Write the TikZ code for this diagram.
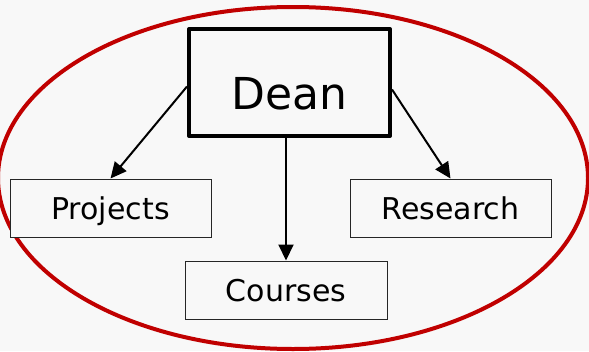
\documentclass[tikz,border=0pt]{standalone}
\usepackage{fontspec}
\setmainfont{DejaVu Sans}
\usetikzlibrary{arrows.meta}
\definecolor{bgc}{RGB}{248,248,248}
\definecolor{ringred}{RGB}{192,0,0}
\tikzset{
  unitbox/.style={draw=black!85, line width=1pt, fill=bgc, inner sep=0pt,
    minimum width=201pt, text height=40pt, text depth=18pt,
    font=\fontsize{30}{36}\selectfont},
  deanbox/.style={draw=black, line width=4pt, line join=round, fill=bgc, inner sep=0pt,
    minimum width=201pt, text height=80pt, text depth=27pt,
    font=\fontsize{44}{50}\selectfont},
  link/.style={line width=2pt, -{Triangle[length=16pt,width=15pt]}}
}
\begin{document}
\begin{tikzpicture}[x=1pt,y=-1pt]
\fill[bgc] (0,0) rectangle (589,351);
\useasboundingbox (0,0) rectangle (589,351);
\draw[ringred, line width=4pt] (293,178) ellipse [x radius=295, y radius=171];
\node[deanbox] (dean) at (289.5,82.5) {Dean};
\node[unitbox] (projects) at (110.5,208) {Projects};
\node[unitbox] (research) at (450.5,208) {Research};
\node[unitbox, minimum width=202pt] (courses) at (286,290) {Courses};
\draw[link] ([yshift=-4pt]dean.west) -- (projects.north);
\draw[link] ([yshift=-7pt]dean.east) -- (research.north);
\draw[link] (dean.south -| courses.north) -- (courses.north);
\end{tikzpicture}
\end{document}
